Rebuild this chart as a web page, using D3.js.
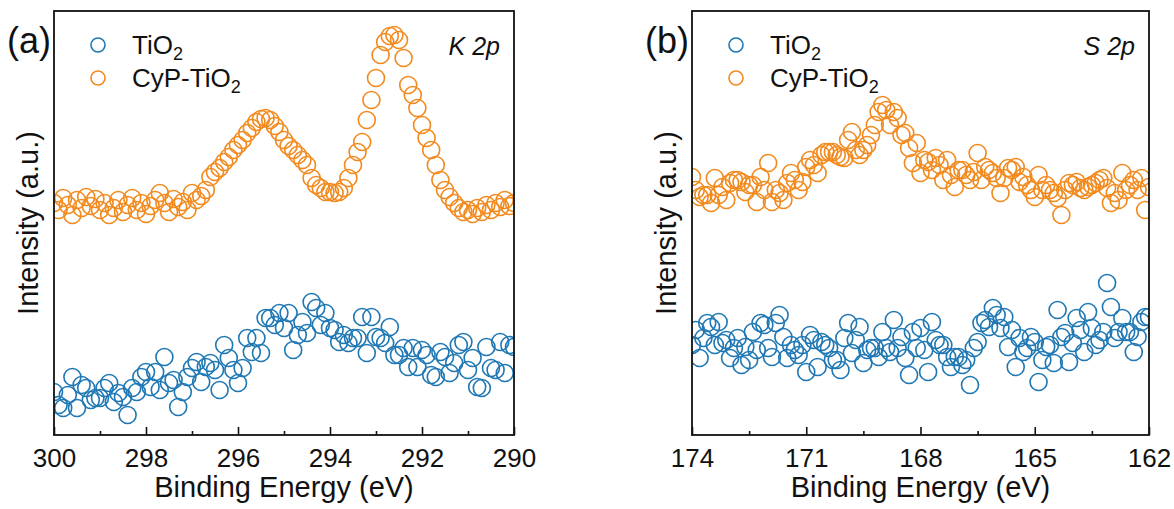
<!DOCTYPE html>
<meta charset="utf-8">
<style>
body { margin: 0; background: #fff; }
text { font-family: "Liberation Sans", Arial, sans-serif; fill: #111; }
.tick text { font-size: 26px; }
.title { font-size: 29px; }
</style>
<script src="https://d3js.org/d3.v7.min.js"></script>
<svg width="1174" height="509"></svg>
<script>

// K 2p: 300 -> 290 eV, 0.1 eV step
var k2pStart = 300, k2pStep = -0.1;
var k2pTiO2 = [43,30,27,40,58,27,50,47,35,37, 37,47,52,33,42,38,20,47,43,58,
  63,48,63,45,78,52,55,28,43,58, 67,73,53,68,72,65,45,90,77,65,
  52,67,97,83,97,82,117,117,110,122, 107,122,85,100,113,102,133,127,110,122,
  107,105,93,100,92,97,97,118,82,118, 98,97,92,108,80,80,87,68,87,68,
  85,80,60,58,83,78,62,72,90,93, 65,77,48,47,88,67,65,93,62,90, 88];
var k2pCyP = [232,225,237,230,220,235,227,238,229,236, 225,232,220,227,235,223,230,237,225,232,
  221,229,235,242,232,223,236,228,233,225, 242,235,239,245,258,263,267,273,278,285,
  290,295,302,307,313,316,317,315,309,303, 295,289,285,280,275,270,257,250,247,243,
  243,242,243,247,257,270,283,293,315,335, 357,380,393,399,400,395,377,350,340,327,
  310,297,285,270,255,245,238,232,227,223, 225,221,227,223,230,225,232,228,235,229, 232];

// S 2p: 174 -> 162 eV, 0.1 eV step
var s2pStart = 174, s2pStep = -0.1;
var s2pTiO2 = [90,105,77,97,112,108,90,113,92,95, 77,87,97,70,88,75,103,85,112,110,
  87,78,112,120,98,77,90,85,80,90, 63,100,95,68,93,90,87,75,75,65,
  97,112,82,95,108,72,85,87,87,78, 103,87,83,115,87,98,77,60,103,87,
  107,85,63,113,95,90,90,78,68,78, 78,70,75,50,87,93,112,115,108,127,
  120,107,118,88,105,68,97,83,87,98, 93,53,75,88,90,72,125,98,102,73,
  92,117,105,83,123,107,90,95,103,152, 128,97,103,117,103,103,83,98,113,118,118];
var s2pCyP = [258,245,238,240,240,232,257,240,248,235, 252,255,255,253,243,250,250,233,258,245,
  272,233,245,242,235,252,262,255,245,253, 268,275,270,262,280,283,283,283,280,278,
  277,295,303,285,280,285,290,300,310,323, 330,325,310,323,317,300,302,287,272,292,
  262,275,273,265,277,270,255,275,260,248, 265,265,260,255,263,282,255,268,265,262,
  257,242,257,267,265,268,253,258,250,245, 238,260,245,250,245,242,237,220,245,252,
  250,253,247,245,248,250,252,255,257,247, 232,242,235,262,245,250,255,245,257,225,248];

var seriesNames = ["TiO", "CyP-TiO"];
var colors = ["#1f78b4", "#f28a1e"];

var svg = d3.select("svg");

function toPoints(vals, start, step) {
  return vals.map(function(v, i) { return { e: start + i * step, v: v }; });
}

var panels = [
  { id: "a", label: "(a)", tag: "K 2p", left: 54, right: 514, domain: [300, 290],
    major: d3.range(300, 289, -2), minor: d3.range(299, 290, -2),
    series: [toPoints(k2pTiO2, k2pStart, k2pStep), toPoints(k2pCyP, k2pStart, k2pStep)] },
  { id: "b", label: "(b)", tag: "S 2p", left: 692, right: 1149, domain: [174, 162],
    major: d3.range(174, 161, -3), minor: d3.range(172.5, 162, -3),
    series: [toPoints(s2pTiO2, s2pStart, s2pStep), toPoints(s2pCyP, s2pStart, s2pStep)] }
];

var plotTop = 11, plotBottom = 435;

panels.forEach(function(p) {
  var x = d3.scaleLinear().domain(p.domain).range([p.left, p.right]);
  var y = d3.scaleLinear().domain([0, 424]).range([plotBottom, plotTop]);
  var g = svg.append("g");

  g.append("clipPath").attr("id", "clip-" + p.id)
    .append("rect").attr("x", p.left).attr("y", plotTop)
    .attr("width", p.right - p.left).attr("height", plotBottom - plotTop);

  var plot = g.append("g").attr("clip-path", "url(#clip-" + p.id + ")");
  p.series.forEach(function(s, k) {
    plot.selectAll(".pt" + k).data(s).enter().append("circle")
      .attr("cx", function(d) { return x(d.e); })
      .attr("cy", function(d) { return y(d.v); })
      .attr("r", 8.5)
      .attr("fill", "none")
      .attr("stroke", colors[k])
      .attr("stroke-width", 1.6);
  });

  // frame
  g.append("rect").attr("x", p.left).attr("y", plotTop)
    .attr("width", p.right - p.left).attr("height", plotBottom - plotTop)
    .attr("fill", "none").attr("stroke", "#111").attr("stroke-width", 1.8);

  // ticks (inward)
  g.append("g").attr("transform", "translate(0," + plotBottom + ")")
    .call(d3.axisBottom(x).tickValues(p.major).tickSizeInner(-8).tickSizeOuter(0).tickPadding(14)
      .tickFormat(d3.format("d")))
    .call(function(a) { a.select(".domain").remove(); a.selectAll("line").attr("stroke", "#111").attr("stroke-width", 1.6); });
  g.append("g").attr("transform", "translate(0," + plotBottom + ")")
    .call(d3.axisBottom(x).tickValues(p.minor).tickSizeInner(-4).tickSizeOuter(0).tickFormat(""))
    .call(function(a) { a.select(".domain").remove(); a.selectAll("line").attr("stroke", "#111").attr("stroke-width", 1.6); });

  var cx = (p.left + p.right) / 2;
  g.append("text").attr("class", "title").attr("x", cx).attr("y", 497)
    .attr("text-anchor", "middle").text("Binding Energy (eV)");
  g.append("text").attr("class", "title")
    .attr("transform", "translate(" + (p.left - 16) + "," + ((plotTop + plotBottom) / 2) + ") rotate(-90)")
    .attr("text-anchor", "middle").text("Intensity (a.u.)");

  g.append("text").attr("x", p.left - 47).attr("y", 53)
    .style("font-size", "36px").text(p.label);

  g.append("text").attr("x", p.right - 14).attr("y", 55)
    .attr("text-anchor", "end").style("font-size", "25px").style("font-style", "italic")
    .text(p.tag);

  // legend
  seriesNames.forEach(function(n, k) {
    var ly = 45 + k * 33;
    g.append("circle").attr("cx", p.left + 44).attr("cy", ly).attr("r", 7)
      .attr("fill", "none").attr("stroke", colors[k]).attr("stroke-width", 1.6);
    var t = g.append("text").attr("x", p.left + 78).attr("y", ly + 9).style("font-size", "26px");
    t.append("tspan").text(n);
    t.append("tspan").attr("dy", 6).style("font-size", "18px").text("2");
  });
});

</script>
